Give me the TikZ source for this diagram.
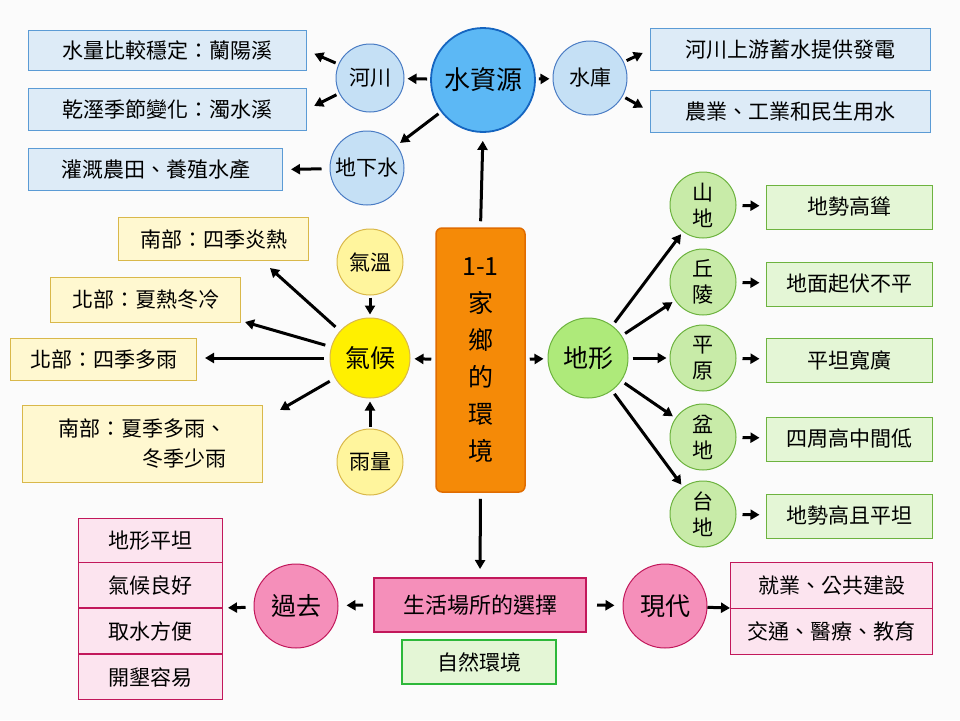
\documentclass[tikz,border=0pt]{standalone}
\usepackage{fontspec}
\setmainfont{Noto Sans CJK TC}
\usetikzlibrary{arrows.meta}
\definecolor{bbox}{HTML}{DDEBF7}\definecolor{bline}{HTML}{5B9BD5}
\definecolor{bbig}{HTML}{5CB8F5}\definecolor{bbigl}{HTML}{1565C0}
\definecolor{bsm}{HTML}{C5E0F5}\definecolor{bsml}{HTML}{4A7CC4}
\definecolor{ybox}{HTML}{FFF8D0}\definecolor{yline}{HTML}{D9B84A}
\definecolor{ybig}{HTML}{FFF000}\definecolor{ysm}{HTML}{FFF59D}
\definecolor{gbig}{HTML}{AEEA7A}\definecolor{gsm}{HTML}{C8EBA8}\definecolor{gline}{HTML}{6DB33F}
\definecolor{gbox}{HTML}{E4F6D6}\definecolor{gdark}{HTML}{2DB83A}
\definecolor{obox}{HTML}{F58A07}\definecolor{oline}{HTML}{E06C00}
\definecolor{pbig}{HTML}{F58FBA}\definecolor{pline}{HTML}{C2185B}\definecolor{pbox}{HTML}{FCE4EF}
\tikzset{
 x=1pt,y=-1pt,
 circ/.style={circle,draw,line width=1pt,inner sep=0pt,font=\fontsize{21}{24}\selectfont},
 bx/.style={draw,line width=1pt,anchor=north west,font=\fontsize{21}{24}\selectfont,inner sep=0pt},
 arr/.style={-{Triangle[length=9pt,width=10pt]},line width=3pt,black},
}
\begin{document}
\begin{tikzpicture}
\fill[white!97!gray] (0,0) rectangle (960,720);
\useasboundingbox (0,0) rectangle (960,720);
% water
\node[circ,fill=bbig,draw=bbigl,line width=1.8pt,minimum size=104pt,font=\fontsize{26}{30}\selectfont] (wat) at (483,80) {水資源};
\node[circ,fill=bsm,draw=bsml,minimum size=68pt] (riv) at (370,78) {河川};
\node[circ,fill=bsm,draw=bsml,minimum size=74pt] (res) at (590,78) {水庫};
\node[circ,fill=bsm,draw=bsml,minimum size=74pt] (gw) at (367,168) {地下水};
\node[bx,fill=bbox,draw=bline,minimum width=278pt,minimum height=40pt] (b1) at (28,30) {水量比較穩定：蘭陽溪};
\node[bx,fill=bbox,draw=bline,minimum width=278pt,minimum height=42pt] (b2) at (28,88) {乾溼季節變化：濁水溪};
\node[bx,fill=bbox,draw=bline,minimum width=254pt,minimum height=42pt] (b3) at (28,148) {灌溉農田、養殖水產};
\node[bx,fill=bbox,draw=bline,minimum width=280pt,minimum height=42pt] (b4) at (650,28) {河川上游蓄水提供發電};
\node[bx,fill=bbox,draw=bline,minimum width=280pt,minimum height=42pt] (b5) at (650,90) {農業、工業和民生用水};
% center
\node[draw=oline,fill=obox,rounded corners=6pt,line width=1.5pt,minimum width=89pt,minimum height=264pt,align=center,font=\fontsize{25}{37}\selectfont,inner sep=0pt] (cen) at (480.5,360) {1-1\\家\\鄉\\的\\環\\境};
% climate
\node[circ,fill=ybig,draw=yline,minimum size=80pt,font=\fontsize{25}{28}\selectfont] (cli) at (370,358) {氣候};
\node[circ,fill=ysm,draw=yline,minimum size=66pt] (tmp) at (370,262) {氣溫};
\node[circ,fill=ysm,draw=yline,minimum size=66pt] (rai) at (370,462) {雨量};
\node[bx,fill=ybox,draw=yline,minimum width=190pt,minimum height=43pt] (y1) at (118,217) {南部：四季炎熱};
\node[bx,fill=ybox,draw=yline,minimum width=190pt,minimum height=45pt] (y2) at (50,277) {北部：夏熱冬冷};
\node[bx,fill=ybox,draw=yline,minimum width=186pt,minimum height=42pt] (y3) at (10,338) {北部：四季多雨};
\node[bx,fill=ybox,draw=yline,minimum width=240pt,minimum height=77pt,align=left,font=\fontsize{21}{30}\selectfont] (y4) at (22,405) {南部：夏季多雨、\\\hspace*{4em}冬季少雨};
% terrain
\node[circ,fill=gbig,draw=gline,minimum size=80pt,font=\fontsize{25}{28}\selectfont] (ter) at (588,358) {地形};
\foreach \n/\t/\yy/\bt in {t1/山\\地/205/地勢高聳, t2/丘\\陵/282/地面起伏不平, t3/平\\原/358/平坦寬廣, t4/盆\\地/437/四周高中間低, t5/台\\地/514/地勢高且平坦}{
 \node[circ,fill=gsm,draw=gline,minimum size=66pt,align=center,font=\fontsize{21}{26}\selectfont] (\n) at (703,\yy) {\t};
 \node[draw=gline,fill=gbox,line width=1pt,minimum width=166pt,minimum height=44pt,font=\fontsize{21}{24}\selectfont,inner sep=0pt] (\n b) at (849,\yy+2) {\bt};
 \draw[arr,shorten <=6pt,shorten >=6pt] (\n) -- (\n b);
 \draw[arr,shorten <=4pt,shorten >=3pt] (ter) -- (\n);
}
% life
\node[draw=pline,fill=pbig,line width=2pt,minimum width=212pt,minimum height=54pt,font=\fontsize{22}{26}\selectfont,inner sep=0pt] (life) at (480,605) {生活場所的選擇};
\node[draw=gdark,fill=gbox,line width=2pt,minimum width=154pt,minimum height=44pt,font=\fontsize{21}{24}\selectfont,inner sep=0pt] (nat) at (479,662) {自然環境};
\node[circ,fill=pbig,draw=pline,minimum size=84pt,font=\fontsize{25}{28}\selectfont] (past) at (296,606) {過去};
\node[circ,fill=pbig,draw=pline,minimum size=84pt,font=\fontsize{25}{28}\selectfont] (now) at (665,606) {現代};
\foreach \n/\t/\yy in {p1/地形平坦/518, p2/氣候良好/562, p3/取水方便/608, p4/開墾容易/654}{
 \node[bx,fill=pbox,draw=pline,minimum width=144pt,minimum height=45pt] (\n) at (78,\yy) {\t};}
\node[bx,fill=pbox,draw=pline,minimum width=202pt,minimum height=46pt] (q1) at (730,562) {就業、公共建設};
\node[bx,fill=pbox,draw=pline,minimum width=202pt,minimum height=46pt] (q2) at (730,608) {交通、醫療、教育};
\coordinate (pl) at (222,608);
\coordinate (ql) at (730,608);
% arrows
\draw[arr,shorten <=6pt,shorten >=8pt] (cen.north) -- (wat.south);
\draw[arr,shorten <=4pt,shorten >=4pt] (cen) -- (cli);
\draw[arr,shorten <=4pt,shorten >=4pt] (cen) -- (ter);
\draw[arr,shorten <=6pt,shorten >=8pt] (cen.south) -- (life.north);
\draw[arr,shorten <=3pt,shorten >=3pt] (wat) -- (riv);
\draw[arr,shorten <=3pt,shorten >=3pt] (wat) -- (res);
\draw[arr,shorten <=3pt,shorten >=4pt] (wat) -- (gw);
\draw[arr,shorten <=3pt,shorten >=8pt] (riv) -- (b1.east);
\draw[arr,shorten <=3pt,shorten >=8pt] (riv) -- (b2.east);
\draw[arr,shorten <=8pt,shorten >=8pt] (gw) -- (b3.east);
\draw[arr,shorten <=3pt,shorten >=8pt] (res) -- (b4.west);
\draw[arr,shorten <=3pt,shorten >=8pt] (res) -- (b5.west);
\draw[arr,shorten <=2pt,shorten >=3pt] (tmp) -- (cli);
\draw[arr,shorten <=2pt,shorten >=3pt] (rai) -- (cli);
\coordinate (c1) at (270,268); \coordinate (c2) at (245,322); \coordinate (c3) at (205,358); \coordinate (c4) at (280,410);
\foreach \c in {c1,c2,c3,c4} \draw[arr,shorten <=6pt] (cli) -- (\c);
\draw[arr,shorten <=10pt,shorten >=8pt] (life.west) -- (past);
\draw[arr,shorten <=10pt,shorten >=8pt] (life.east) -- (now);
\draw[arr,shorten <=8pt,shorten >=6pt] (past) -- (pl);
\draw[arr,shorten <=0pt,shorten >=0pt] (now) -- (ql);
\end{tikzpicture}
\end{document}
